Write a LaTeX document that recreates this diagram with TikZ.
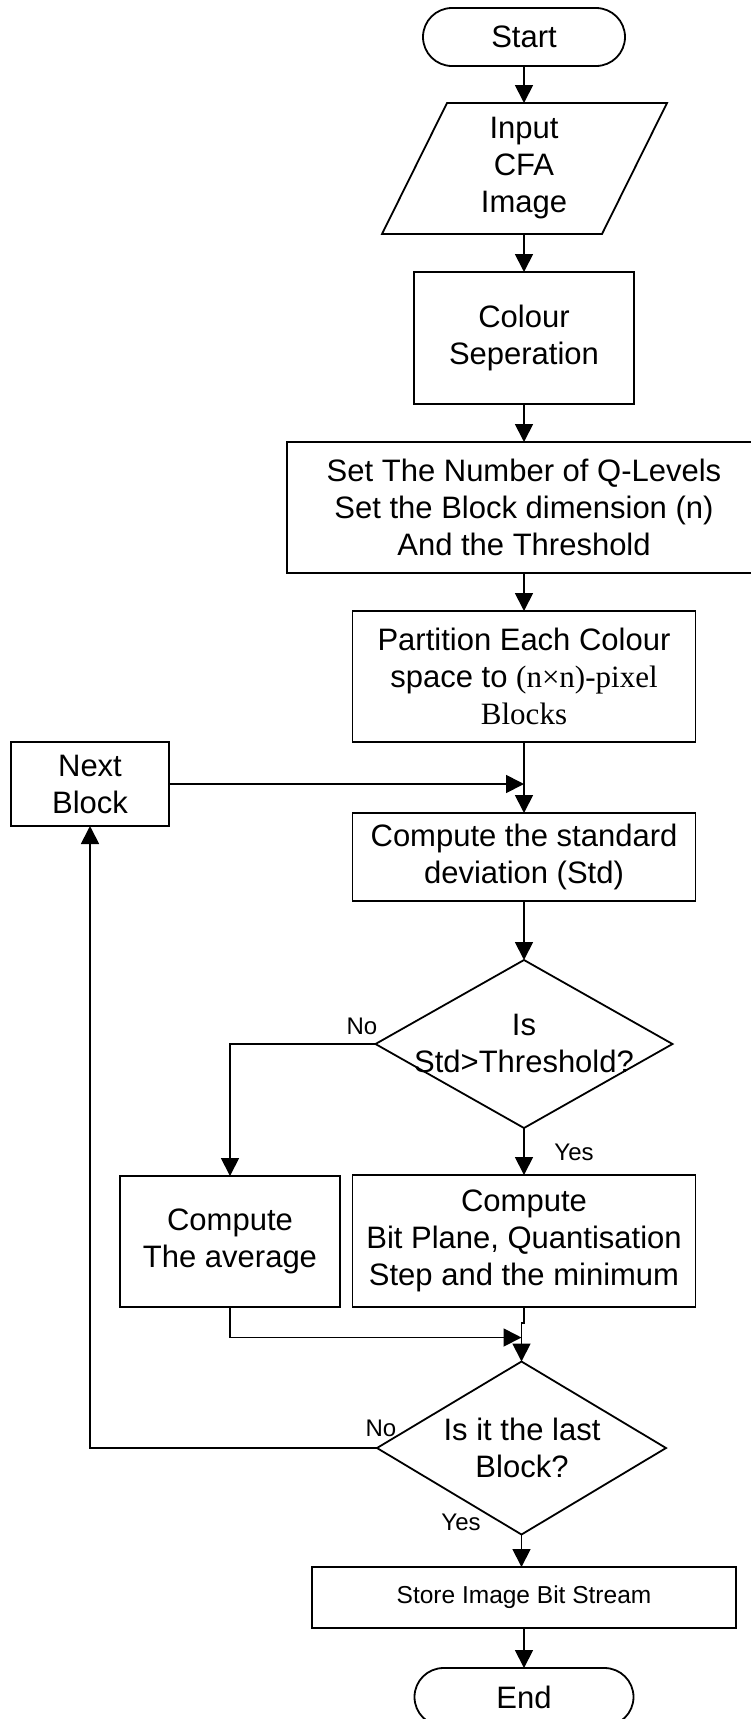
\documentclass[tikz,border=0pt]{standalone}
\usepackage{fontspec}
\setmainfont{Liberation Sans}
\newfontfamily\tnr{Liberation Serif}
\usetikzlibrary{arrows.meta,shapes.geometric,calc}
\begin{document}
\begin{tikzpicture}[x=1pt,y=-1pt,
  every node/.style={inner sep=0pt, outer sep=0pt},
  box/.style={draw, line width=1.8pt, rectangle, align=center, font=\fontsize{31}{37}\selectfont},
  term/.style={box, rounded corners=29pt},
  dia/.style={draw, line width=1.8pt, diamond},
  txt/.style={align=center, font=\fontsize{31}{37}\selectfont},
  lbl/.style={font=\fontsize{24}{28}\selectfont},
  arr/.style={line width=1.8pt, -{Triangle[length=18pt,width=18pt]}},
  ln/.style={line width=1.8pt}
]
\clip (0,0) rectangle (751,1719);
\fill[white] (0,0) rectangle (751,1719);

\node[term, minimum width=202pt, minimum height=58pt] (start) at (524,37) {Start};
\node[txt, minimum width=285pt, minimum height=131pt] (input) at (524,168.5) {Input\\CFA\\Image};
\draw[ln] ($(input.center)+(-77,-65.5)$) -- ($(input.center)+(143,-65.5)$) -- ($(input.center)+(78,65.5)$) -- ($(input.center)+(-142,65.5)$) -- cycle;
\node[box, minimum width=220pt, minimum height=132pt] (colour) at (524,338) {Colour\\Seperation};
\node[box, minimum width=474pt, minimum height=131pt] (set) at (524,507.5) {Set The Number of Q-Levels\\Set the Block dimension (n)\\And the Threshold};
\node[box, minimum width=343pt, minimum height=131pt] (part) at (524,676.5) {Partition Each Colour\\space to {\tnr (n×n)-pixel}\\{\tnr Blocks}};
\node[box, minimum width=158pt, minimum height=84pt] (next) at (90,784) {Next\\Block};
\node[box, minimum width=343pt, minimum height=88pt] (std) at (524,857) {Compute the standard\\deviation (Std)};
\node[dia, minimum width=297pt, minimum height=168pt] (d1) at (524,1044) {};
\node[txt] (d1t) at (524,1043) {Is\\Std>Threshold?};
\node[box, minimum width=220pt, minimum height=131pt] (avg) at (230,1241.5) {Compute\\The average};
\node[box, minimum width=343pt, minimum height=132pt] (bit) at (524,1241) {Compute\\Bit Plane, Quantisation\\Step and the minimum};
\node[dia, minimum width=289pt, minimum height=173pt] (d2) at (521.5,1448) {};
\node[txt] (d2t) at (522,1447.5) {Is it the last\\Block?};
\node[box, minimum width=424pt, minimum height=61pt, font=\fontsize{24.5}{29}\selectfont] (store) at (524,1597.5) {Store Image Bit Stream};
\node[term, minimum width=219pt, minimum height=58pt] (end) at (524,1697) {End};

\node[lbl] (no1) at (362,1026) {No};
\node[lbl] (yes1) at (574,1152) {Yes};
\node[lbl] (no2) at (381,1428) {No};
\node[lbl] (yes2) at (461,1522) {Yes};

\draw[arr] (start.south) -- (input.north);
\draw[arr] (input.south) -- (colour.north);
\draw[arr] (colour.south) -- (set.north);
\draw[arr] (set.south) -- (part.north);
\coordinate (j1) at (part.south |- next.east);
\draw[arr] (part.south) -- (std.north);
\draw[arr] (next.east) -- (j1);
\draw[arr] (std.south) -- (d1.north);
\draw[arr] (d1.west) -| (avg.north);
\draw[arr] (d1.south) -- (bit.north);
\coordinate (j2) at ($(d2.north)+(0,-24)$);
\draw[arr] (avg.south) |- (j2);
\draw[arr] (bit.south) -- ++(0,16) -| (d2.north);
\draw[arr] (d2.west) -| (next.south);
\draw[arr] (d2.south) -- (d2.south |- store.north);
\draw[arr] (store.south) -- (end.north);
\end{tikzpicture}
\end{document}
